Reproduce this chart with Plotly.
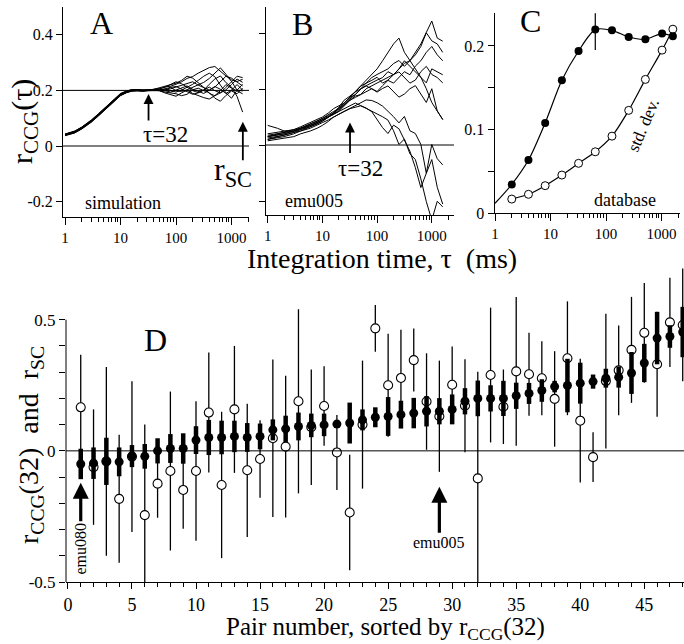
import math
import plotly.graph_objects as go

W, H = 684, 644
SERIF = "Liberation Serif"

# ---------------- Panel A / B : integration-time grid (ms) ----------------
tau = [1, 1.5, 2, 3, 4, 6, 8, 10, 13, 16, 20, 25, 32, 40, 50, 63, 80, 100, 126, 158,
       200, 251, 316, 398, 501, 631, 794, 1000, 1259, 1585]

# Panel A: simulation traces r_CCG(tau)
sim_traces = [
    [0.042, 0.053, 0.067, 0.093, 0.115, 0.148, 0.171, 0.188, 0.198, 0.203, 0.203, 0.201, 0.202, 0.203,
     0.205, 0.212, 0.215, 0.222, 0.231, 0.243, 0.250, 0.262, 0.271, 0.282, 0.286, 0.268, 0.252, 0.238, 0.232, 0.240],
    [0.041, 0.050, 0.064, 0.089, 0.111, 0.144, 0.167, 0.184, 0.194, 0.199, 0.201, 0.199, 0.200, 0.202,
     0.200, 0.206, 0.211, 0.199, 0.196, 0.202, 0.211, 0.222, 0.229, 0.243, 0.262, 0.281, 0.258, 0.232, 0.201, 0.222],
    [0.037, 0.047, 0.061, 0.086, 0.108, 0.141, 0.164, 0.181, 0.192, 0.197, 0.198, 0.197, 0.199, 0.200,
     0.199, 0.194, 0.191, 0.188, 0.181, 0.186, 0.202, 0.208, 0.199, 0.192, 0.172, 0.161, 0.182, 0.198, 0.188, 0.208],
    [0.043, 0.054, 0.068, 0.094, 0.116, 0.149, 0.172, 0.189, 0.198, 0.202, 0.203, 0.201, 0.202, 0.204,
     0.206, 0.211, 0.222, 0.231, 0.224, 0.211, 0.199, 0.192, 0.201, 0.222, 0.241, 0.252, 0.228, 0.212, 0.178, 0.122],
    [0.040, 0.050, 0.064, 0.090, 0.112, 0.145, 0.168, 0.185, 0.195, 0.200, 0.200, 0.198, 0.200, 0.201,
     0.200, 0.201, 0.206, 0.212, 0.221, 0.226, 0.231, 0.219, 0.211, 0.201, 0.212, 0.232, 0.251, 0.244, 0.229, 0.216],
    [0.038, 0.048, 0.062, 0.087, 0.109, 0.142, 0.165, 0.182, 0.193, 0.198, 0.199, 0.198, 0.199, 0.200,
     0.199, 0.191, 0.184, 0.179, 0.191, 0.201, 0.189, 0.181, 0.174, 0.169, 0.181, 0.199, 0.221, 0.208, 0.199, 0.188],
    [0.040, 0.050, 0.064, 0.090, 0.112, 0.145, 0.168, 0.185, 0.195, 0.200, 0.201, 0.200, 0.201, 0.204,
     0.210, 0.216, 0.221, 0.226, 0.236, 0.251, 0.244, 0.229, 0.211, 0.189, 0.181, 0.191, 0.202, 0.221, 0.241, 0.229],
    [0.039, 0.049, 0.063, 0.089, 0.111, 0.144, 0.167, 0.184, 0.194, 0.199, 0.200, 0.198, 0.200, 0.201,
     0.201, 0.205, 0.199, 0.194, 0.201, 0.211, 0.222, 0.236, 0.251, 0.262, 0.249, 0.219, 0.191, 0.172, 0.201, 0.198],
    [0.041, 0.052, 0.066, 0.091, 0.113, 0.146, 0.169, 0.186, 0.196, 0.201, 0.200, 0.199, 0.200, 0.200,
     0.200, 0.199, 0.194, 0.201, 0.209, 0.216, 0.204, 0.196, 0.189, 0.201, 0.214, 0.204, 0.189, 0.201, 0.221, 0.201],
    [0.042, 0.052, 0.066, 0.092, 0.114, 0.147, 0.170, 0.187, 0.197, 0.201, 0.201, 0.200, 0.201, 0.202,
     0.204, 0.199, 0.211, 0.214, 0.204, 0.194, 0.186, 0.191, 0.201, 0.212, 0.199, 0.191, 0.211, 0.232, 0.251, 0.246],
]

# Panel B: pair emu005 traces r_CCG(tau)
emu_traces = [
    [0.020, 0.030, 0.035, 0.045, 0.050, 0.065, 0.075, 0.085, 0.100, 0.110, 0.125, 0.145, 0.165, 0.180, 0.200,
     0.212, 0.221, 0.232, 0.241, 0.262, 0.251, 0.272, 0.292, 0.301, 0.332, 0.361, 0.402, 0.443, 0.382, 0.371],
    [0.030, 0.035, 0.040, 0.050, 0.060, 0.075, 0.085, 0.095, 0.110, 0.120, 0.130, 0.150, 0.170, 0.190, 0.210,
     0.232, 0.251, 0.272, 0.301, 0.332, 0.361, 0.382, 0.331, 0.302, 0.271, 0.242, 0.201, 0.152, 0.121, 0.091],
    [0.020, 0.025, 0.030, 0.040, 0.050, 0.060, 0.070, 0.080, 0.090, 0.100, 0.110, 0.120, 0.130, 0.135, 0.140,
     0.131, 0.121, 0.109, 0.101, 0.089, 0.051, 0.002, 0.021, -0.031, -0.052, -0.121, -0.202, -0.268, -0.201, -0.221],
    [0.040, 0.045, 0.050, 0.055, 0.060, 0.070, 0.080, 0.090, 0.100, 0.110, 0.120, 0.130, 0.140, 0.150, 0.141,
     0.132, 0.119, 0.091, 0.062, 0.041, 0.071, 0.058, 0.019, -0.022, -0.081, -0.152, -0.101, 0.002, -0.049, -0.071],
    [0.030, 0.040, 0.045, 0.055, 0.065, 0.080, 0.090, 0.100, 0.115, 0.130, 0.140, 0.150, 0.170, 0.190, 0.210,
     0.221, 0.241, 0.252, 0.261, 0.272, 0.291, 0.302, 0.281, 0.302, 0.322, 0.352, 0.401, 0.372, 0.361, 0.331],
    [0.025, 0.030, 0.035, 0.045, 0.055, 0.070, 0.080, 0.090, 0.100, 0.110, 0.120, 0.140, 0.160, 0.170, 0.180,
     0.201, 0.212, 0.221, 0.232, 0.241, 0.252, 0.261, 0.241, 0.221, 0.232, 0.262, 0.281, 0.252, 0.241, 0.222],
    [0.035, 0.040, 0.045, 0.050, 0.060, 0.075, 0.085, 0.095, 0.105, 0.115, 0.130, 0.145, 0.160, 0.175, 0.180,
     0.191, 0.201, 0.189, 0.202, 0.211, 0.189, 0.171, 0.182, 0.201, 0.212, 0.181, 0.152, 0.201, 0.122, 0.091],
    [0.030, 0.035, 0.040, 0.050, 0.060, 0.070, 0.080, 0.090, 0.100, 0.115, 0.130, 0.150, 0.170, 0.180, 0.200,
     0.221, 0.231, 0.242, 0.221, 0.232, 0.251, 0.272, 0.301, 0.282, 0.262, 0.241, 0.222, 0.272, 0.262, 0.251],
    [0.070, 0.060, 0.050, 0.050, 0.055, 0.065, 0.075, 0.085, 0.100, 0.115, 0.135, 0.160, 0.175, 0.190, 0.200,
     0.211, 0.201, 0.191, 0.212, 0.231, 0.221, 0.242, 0.262, 0.251, 0.282, 0.301, 0.331, 0.352, 0.322, 0.301],
    [0.015, 0.020, 0.025, 0.030, 0.040, 0.050, 0.060, 0.070, 0.085, 0.100, 0.110, 0.120, 0.130, 0.140, 0.150,
     0.161, 0.159, 0.151, 0.139, 0.121, 0.101, 0.079, 0.102, 0.051, 0.041, 0.002, -0.101, -0.052, -0.151, -0.211],
]

# ---------------- Panel C : database averages ----------------
c_tau = [2, 4, 8, 16, 32, 64, 128, 256, 512, 1024, 1600]
c_mean = [0.0345, 0.0636, 0.108, 0.159, 0.194, 0.2195, 0.2187, 0.2107, 0.208, 0.2148, 0.2116]
c_std = [0.017, 0.0227, 0.033, 0.0457, 0.0597, 0.0735, 0.0922, 0.123, 0.160, 0.195, 0.220]
c_mean_tau0 = 1
c_mean_at_tau0 = 0.012
c_peak_tau = 64
c_peak_mark = [0.195, 0.245]

# ---------------- Panel D : 48 pairs ----------------
pairs = list(range(1, 49))
rccg32 = [-0.050, -0.047, -0.040, -0.042, -0.020, -0.021, 0.000, 0.009, 0.009, 0.041,
          0.051, 0.051, 0.055, 0.051, 0.055, 0.080, 0.084, 0.093, 0.097, 0.099,
          0.102, 0.106, 0.118, 0.128, 0.131, 0.138, 0.144, 0.151, 0.151, 0.158,
          0.189, 0.200, 0.200, 0.200, 0.210, 0.219, 0.230, 0.245, 0.249, 0.258,
          0.264, 0.277, 0.281, 0.297, 0.335, 0.430, 0.436, 0.453]
rccg32_err = [0.058, 0.060, 0.090, 0.055, 0.042, 0.047, 0.048, 0.055, 0.058, 0.053,
              0.067, 0.064, 0.060, 0.055, 0.049, 0.040, 0.050, 0.053, 0.045, 0.043,
              0.013, 0.078, 0.040, 0.038, 0.074, 0.053, 0.058, 0.058, 0.050, 0.057,
              0.050, 0.068, 0.050, 0.067, 0.050, 0.040, 0.043, 0.022, 0.102, 0.078,
              0.027, 0.036, 0.040, 0.080, 0.073, 0.100, 0.043, 0.096]
rsc = [0.166, -0.062, -0.040, -0.183, -0.022, -0.245, -0.125, -0.077, -0.149, -0.077,
       0.146, -0.130, 0.158, -0.074, -0.031, 0.048, 0.016, 0.189, 0.090, 0.171,
       -0.006, -0.235, 0.100, 0.467, 0.250, 0.278, 0.346, 0.188, 0.132, 0.252,
       0.172, -0.105, 0.289, 0.168, 0.303, 0.292, 0.277, 0.198, 0.353, 0.115,
       -0.024, 0.266, 0.307, 0.385, 0.450, 0.330, 0.490, 0.480]
rsc_err = [0.200, 0.220, 0.360, 0.244, 0.287, 0.345, 0.130, 0.303, 0.148, 0.266,
           0.229, 0.279, 0.242, 0.254, 0.148, 0.300, 0.270, 0.351, 0.220, 0.152,
           0.143, 0.220, 0.244, 0.089, 0.196, 0.184, 0.120, 0.184, 0.212, 0.146,
           0.177, 0.407, 0.257, 0.142, 0.284, 0.158, 0.141, 0.182, 0.217, 0.236,
           0.095, 0.257, 0.171, 0.202, 0.190, 0.200, 0.170, 0.215]

marked_pairs = [1, 29]
marked_names = ["emu080", "emu005"]
tau_mark = 32
tau_sc = 1600

decades = [1, 10, 100, 1000]
decade_text = ["1", "10", "100", "1000"]
minor_log = [m * d for d in (1, 10, 100, 1000) for m in range(2, 10) if m * d <= 2000]


def px(x):
    return x / W


def py(y):
    return 1 - y / H


fig = go.Figure()

for tr in sim_traces:
    fig.add_trace(go.Scatter(x=tau, y=tr, mode="lines", line=dict(color="black", width=1),
                             xaxis="x", yaxis="y", showlegend=False, hoverinfo="skip"))
for tr in emu_traces:
    fig.add_trace(go.Scatter(x=tau, y=tr, mode="lines", line=dict(color="black", width=1),
                             xaxis="x2", yaxis="y2", showlegend=False, hoverinfo="skip"))

# Panel C
fig.add_trace(go.Scatter(x=[c_mean_tau0] + c_tau, y=[c_mean_at_tau0] + c_mean, mode="lines",
                         line=dict(color="black", width=1.2, shape="spline", smoothing=0.8),
                         xaxis="x3", yaxis="y3", showlegend=False))
fig.add_trace(go.Scatter(x=c_tau, y=c_std, mode="lines+markers",
                         line=dict(color="black", width=1.2, shape="spline", smoothing=0.8),
                         marker=dict(symbol="circle", size=8, color="white", line=dict(color="black", width=1)),
                         xaxis="x3", yaxis="y3", showlegend=False))
fig.add_trace(go.Scatter(x=c_tau, y=c_mean, mode="markers",
                         marker=dict(symbol="circle", size=8, color="black"),
                         xaxis="x3", yaxis="y3", showlegend=False))
fig.add_trace(go.Scatter(x=[c_peak_tau, c_peak_tau], y=c_peak_mark, mode="lines",
                         line=dict(color="black", width=1.2), xaxis="x3", yaxis="y3",
                         showlegend=False, cliponaxis=False))

# Panel D
fig.add_trace(go.Scatter(x=pairs, y=rsc, mode="markers",
                         error_y=dict(type="data", array=rsc_err, thickness=1.3, width=0, color="black"),
                         marker=dict(symbol="circle", size=9, color="white", line=dict(color="black", width=1.1)),
                         xaxis="x4", yaxis="y4", showlegend=False))
fig.add_trace(go.Scatter(x=pairs, y=rccg32, mode="markers",
                         error_y=dict(type="data", array=rccg32_err, thickness=4.5, width=0, color="black"),
                         marker=dict(symbol="circle", size=9, color="black"),
                         xaxis="x4", yaxis="y4", showlegend=False))

tickfont = dict(family=SERIF, size=15, color="black")
common = dict(showgrid=False, zeroline=False, showline=True, linecolor="black", linewidth=1,
              ticks="outside", tickcolor="black", tickwidth=1, tickfont=tickfont, automargin=False)

logx = dict(type="log", tickmode="array", tickvals=decades, ticktext=decade_text, ticklen=7,
            minor=dict(tickmode="array", tickvals=minor_log, ticks="outside", ticklen=4, tickcolor="black"),
            **common)

fig.update_layout(
    width=W, height=H, margin=dict(l=0, r=0, t=0, b=0, pad=0, autoexpand=False), autosize=False,
    paper_bgcolor="white", plot_bgcolor="white",
    xaxis=dict(domain=[px(63), px(249)], range=[-0.036, 3.315], anchor="y", **logx),
    yaxis=dict(domain=[py(217), py(7)], range=[-0.2554, 0.5], anchor="x",
               tickmode="array", tickvals=[-0.2, 0, 0.2, 0.4], ticktext=["-0.2", "0", "0.2", "0.4"],
               ticklen=6, **{**common, "tickfont": dict(family=SERIF, size=16, color="black")}),
    xaxis2=dict(domain=[px(265.5), px(454)], range=[-0.04, 3.406], anchor="y2", **logx),
    yaxis2=dict(domain=[py(215), py(7)], range=[-0.25, 0.493], anchor="x2",
                tickmode="array", tickvals=[-0.2, 0, 0.2, 0.4], showticklabels=False, ticklen=6, **common),
    xaxis3=dict(domain=[px(494.5), px(680)], range=[-0.01, 3.333], anchor="y3", **logx),
    yaxis3=dict(domain=[py(213.3), py(13.3)], range=[0, 0.239], anchor="x3",
                tickmode="array", tickvals=[0, 0.05, 0.1, 0.15, 0.2], ticktext=["0", "", "0.1", "", "0.2"],
                ticklen=6, **{**common, "tickfont": dict(family=SERIF, size=16, color="black")}),
    xaxis4=dict(domain=[px(66), px(684)], range=[-0.15, 48.1], anchor="y4",
                tickmode="array", tickvals=[0, 5, 10, 15, 20, 25, 30, 35, 40, 45], ticklen=6,
                minor=dict(tickmode="array", tickvals=[v for v in range(0, 49) if v % 5], ticks="outside",
                           ticklen=4, tickcolor="black"),
                **{**common, "tickfont": dict(family=SERIF, size=18, color="black")}),
    yaxis4=dict(domain=[py(582), py(262)], range=[-0.5, 0.72], anchor="x4",
                tickmode="array", tickvals=[-0.5, 0, 0.5], ticktext=["-0.5", "0", "0.5"], ticklen=6,
                minor=dict(tickmode="array", tickvals=[-0.4, -0.3, -0.2, -0.1, 0.1, 0.2, 0.3, 0.4],
                           ticks="outside", ticklen=6, tickcolor="black"),
                **{**common, "showline": False, "tickfont": dict(family=SERIF, size=17, color="black")}),
)

shapes = [
    dict(type="line", xref="x domain", yref="y", x0=0, x1=1, y0=0, y1=0, line=dict(color="black", width=1)),
    dict(type="line", xref="x domain", yref="y", x0=0, x1=1, y0=0.2, y1=0.2, line=dict(color="black", width=1)),
    dict(type="line", xref="x2 domain", yref="y2", x0=0, x1=1, y0=0, y1=0, line=dict(color="black", width=1)),
    dict(type="line", xref="x4 domain", yref="y4", x0=0, x1=1, y0=0, y1=0, line=dict(color="black", width=1)),
    dict(type="line", xref="x4 domain", yref="y4", x0=0, x1=0, y0=-0.5, y1=0.5, line=dict(color="black", width=1)),
]
fig.update_layout(shapes=shapes)

f = lambda s: dict(family=SERIF, size=s, color="black")


def label(xp, yp, text, size, **kw):
    return dict(x=px(xp), y=py(yp), xref="paper", yref="paper", text=text, showarrow=False,
                xanchor="center", yanchor="middle", font=f(size), **kw)


ann = []
# panel letters
ann += [label(101, 23, "A", 32), label(302, 24, "B", 32), label(530, 21, "C", 32), label(155, 340, "D", 32)]
# panel captions
ann += [label(123, 203, "simulation", 18), label(314, 201, "emu005", 18), label(625, 200, "database", 18),
        label(643, 125, "std. dev.", 17, textangle=-67)]
# arrows in top panels
ann += [dict(x=math.log10(tau_mark), y=0.187, xref="x", yref="y", text="", showarrow=True,
             ax=0, ay=28, arrowhead=2, arrowsize=1.1, arrowwidth=1.8, arrowcolor="black"),
        label(165, 134, "τ=32", 23),
        dict(x=math.log10(tau_sc), y=0.087, xref="x", yref="y", text="", showarrow=True,
             ax=0, ay=40, arrowhead=2, arrowsize=1.1, arrowwidth=1.8, arrowcolor="black"),
        label(233, 172, "r<sub>SC</sub>", 32),
        dict(x=math.log10(tau_mark), y=0.08, xref="x2", yref="y2", text="", showarrow=True,
             ax=0, ay=32, arrowhead=2, arrowsize=1.1, arrowwidth=1.8, arrowcolor="black"),
        label(360, 168, "τ=32", 23)]
# axis titles
ann += [label(24, 122, "r<sub>CCG</sub>(τ)", 30, textangle=-90),
        label(382, 258, "Integration time, τ\u00a0\u00a0(ms)", 28),
        label(30, 445, "r<sub>CCG</sub>(32)\u00a0\u00a0and\u00a0\u00a0r<sub>SC</sub>", 28, textangle=-90),
        label(385, 628, "Pair number, sorted by r<sub>CCG</sub>(32)", 25)]
# pair arrows in D
ann += [dict(x=marked_pairs[0], y=-0.122, xref="x4", yref="y4", text=marked_names[0], textangle=-90,
             showarrow=True, ax=0, ay=66, arrowhead=2, arrowsize=1, arrowwidth=3.2, arrowcolor="black",
             font=f(16)),
        dict(x=marked_pairs[1], y=-0.137, xref="x4", yref="y4", text=marked_names[1],
             showarrow=True, ax=0, ay=56, arrowhead=2, arrowsize=1, arrowwidth=3.2, arrowcolor="black",
             font=f(16))]
fig.update_layout(annotations=ann)

post = ("var de=document.documentElement, b=document.body;"
        "de.style.margin='0'; de.style.padding='0'; de.style.overflow='hidden';"
        "b.style.margin='0'; b.style.padding='0'; b.style.overflow='hidden';")

fig.write_html("out.html", config={"displayModeBar": False, "responsive": False}, post_script=post)
